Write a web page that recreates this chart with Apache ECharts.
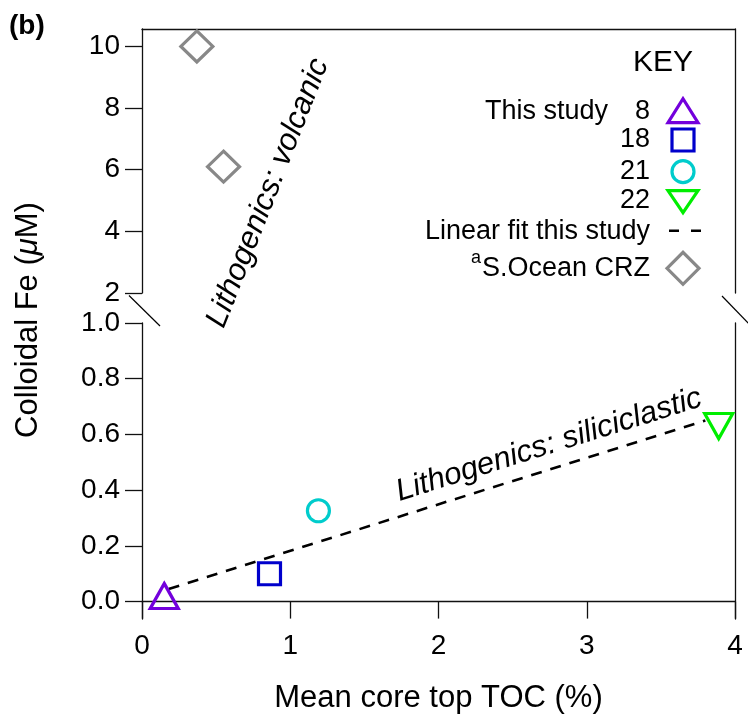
<!DOCTYPE html>
<html>
<head>
<meta charset="utf-8">
<script src="https://cdn.jsdelivr.net/npm/echarts@6/dist/echarts.min.js"></script>
<style>
html, body { margin: 0; padding: 0; background: #fff; }
#chart { width: 748px; height: 725px; }
</style>
</head>
<body>
<div id="chart"></div>
<script>
// stations of this study (8, 18, 21, 22)
var stationNames = ['8', '18', '21', '22'];
var stationToc = [0.15, 0.86, 1.19, 3.89];
var stationFe = [0.02, 0.10, 0.326, 0.63];
// S.Ocean CRZ (upper panel)
var crzToc = [0.37, 0.55];
var crzFe = [10.0, 6.1];
// linear fit this study
var fitToc = [0.18, 3.80];
var fitFe = [0.045, 0.65];
// ticks
var xTicks = [0, 1, 2, 3, 4];
var yTicksTop = [2, 4, 6, 8, 10];
var yTicksBottom = [0, 0.2, 0.4, 0.6, 0.8, 1.0];

var stationColors = ['#7300DC', '#0000CC', '#00CCCC', '#00EE00'];
var stationSymbols = ['triangle', 'rect', 'circle', 'triangle'];
var stationSizes = [[28, 25], 22, 22, [28, 25]];
var stationRotate = [0, 0, 0, 180];
var crzColor = '#888888';

var FONT = '"Liberation Sans", Arial, Helvetica, sans-serif';
var axisCol = '#111';
var lineW = 1.3;

var dom = document.getElementById('chart');
var myChart = echarts.init(dom);

var series = [];
series.push({
    name: 'Linear fit this study',
    type: 'line',
    xAxisIndex: 1,
    yAxisIndex: 2,
    symbol: 'none',
    data: fitToc.map(function (x, i) { return [x, fitFe[i]]; }),
    lineStyle: { color: '#000', width: 2.6, type: [11, 9] },
    z: 2
});
for (var i = 0; i < stationNames.length; i++) {
    series.push({
        name: stationNames[i],
        type: 'scatter',
        xAxisIndex: 1,
        yAxisIndex: 2,
        data: [[stationToc[i], stationFe[i]]],
        symbol: stationSymbols[i],
        symbolSize: stationSizes[i],
        symbolRotate: stationRotate[i],
        itemStyle: { color: 'rgba(0,0,0,0)', borderColor: stationColors[i], borderWidth: 3.2, opacity: 1 },
        z: 3
    });
}
series.push({
    name: 'S.Ocean CRZ',
    type: 'scatter',
    xAxisIndex: 0,
    yAxisIndex: 0,
    data: crzToc.map(function (x, i) { return [x, crzFe[i]]; }),
    symbol: 'diamond',
    symbolSize: [32, 31],
    itemStyle: { color: 'rgba(0,0,0,0)', borderColor: crzColor, borderWidth: 3.2, opacity: 1 },
    z: 3
});

var option = {
    animation: false,
    textStyle: { fontFamily: FONT },
    grid: [
        { left: 142, right: 13, top: 29, height: 264 },
        { left: 142, right: 13, top: 323, height: 296 }
    ],
    xAxis: [
        {
            gridIndex: 0, type: 'value', min: 0, max: 4, position: 'top',
            axisLine: { show: true, onZero: false, lineStyle: { color: axisCol, width: lineW } },
            axisTick: { show: false }, axisLabel: { show: false }, splitLine: { show: false }
        },
        {
            gridIndex: 1, type: 'value', min: 0, max: 4, interval: 1,
            axisLine: { show: true, onZero: true, lineStyle: { color: axisCol, width: lineW } },
            axisTick: { show: true, inside: false, length: 17, customValues: xTicks, lineStyle: { color: axisCol, width: lineW } },
            axisLabel: { customValues: xTicks, fontSize: 28, margin: 13, color: '#000', fontFamily: FONT },
            splitLine: { show: false },
            name: 'Mean core top TOC (%)',
            nameLocation: 'middle',
            nameGap: 64,
            nameTextStyle: { fontSize: 31, color: '#000', fontFamily: FONT }
        }
    ],
    yAxis: [
        {
            gridIndex: 0, type: 'value', min: 2, max: 10.566,
            axisLine: { show: true, onZero: false, lineStyle: { color: axisCol, width: lineW } },
            axisTick: { show: true, length: 17, customValues: yTicksTop, lineStyle: { color: axisCol, width: lineW } },
            axisLabel: { customValues: yTicksTop, fontSize: 28, margin: 22, color: '#000', fontFamily: FONT },
            splitLine: { show: false }
        },
        {
            gridIndex: 0, type: 'value', min: 2, max: 10.566, position: 'right',
            axisLine: { show: true, onZero: false, lineStyle: { color: axisCol, width: lineW } },
            axisTick: { show: false }, axisLabel: { show: false }, splitLine: { show: false }
        },
        {
            gridIndex: 1, type: 'value', min: -0.0625, max: 1.0,
            axisLine: { show: true, onZero: false, lineStyle: { color: axisCol, width: lineW } },
            axisTick: { show: true, length: 17, customValues: yTicksBottom, lineStyle: { color: axisCol, width: lineW } },
            axisLabel: {
                customValues: yTicksBottom, fontSize: 28, margin: 22, color: '#000', fontFamily: FONT,
                formatter: function (v) { return v.toFixed(1); }
            },
            splitLine: { show: false }
        },
        {
            gridIndex: 1, type: 'value', min: -0.0625, max: 1.0, position: 'right',
            axisLine: { show: true, onZero: false, lineStyle: { color: axisCol, width: lineW } },
            axisTick: { show: false }, axisLabel: { show: false }, splitLine: { show: false }
        }
    ],
    series: series
};

if (option && typeof option === "object") {
    myChart.setOption(option, true);
}

// decorations: panel label, axis title, annotations, key, axis break marks
var pTop = myChart.convertToPixel({ gridIndex: 0 }, [0, 2]);
var pBot = myChart.convertToPixel({ gridIndex: 1 }, [0, 1]);
var pTopR = myChart.convertToPixel({ gridIndex: 0 }, [4, 2]);

var txt = function (x, y, text, size, align, weight) {
    return {
        type: 'text', x: x, y: y, z: 10,
        style: {
            text: text, fontSize: size, fontFamily: FONT, fontWeight: weight || 'normal', fill: '#000',
            textAlign: align || 'right', textVerticalAlign: 'middle'
        }
    };
};

var keyX = 650, symX = 683;
var rows = [111.7, 140, 171.7, 200.7, 231.7, 268.3];
var sw = 3.2;

var graphics = [
    txt(9, 26, '(b)', 28, 'left', 'bold'),
    {
        type: 'text', x: 28, y: 320, rotation: Math.PI / 2, z: 10,
        style: {
            text: '{n|Colloidal Fe (}{i|μ}{n|M)}',
            textAlign: 'center', textVerticalAlign: 'middle',
            rich: {
                n: { fontSize: 31, fontFamily: FONT, fill: '#000' },
                i: { fontSize: 31, fontFamily: FONT, fontStyle: 'italic', fill: '#000' }
            }
        }
    },
    {
        type: 'text', x: 268, y: 193, rotation: 68.5 * Math.PI / 180, z: 10,
        style: { text: 'Lithogenics: volcanic', fontSize: 31, fontStyle: 'italic', fontFamily: FONT, fill: '#000', textAlign: 'center', textVerticalAlign: 'middle' }
    },
    {
        type: 'text', x: 549, y: 445, rotation: 17.4 * Math.PI / 180, z: 10,
        style: { text: 'Lithogenics: siliciclastic', fontSize: 31, fontStyle: 'italic', fontFamily: FONT, fill: '#000', textAlign: 'center', textVerticalAlign: 'middle' }
    },
    txt(663, 63, 'KEY', 30, 'center'),
    txt(608, rows[0], 'This study', 27),
    txt(keyX, rows[0], stationNames[0], 27),
    txt(keyX, rows[1], stationNames[1], 27),
    txt(keyX, rows[2], stationNames[2], 27),
    txt(keyX, rows[3], stationNames[3], 27),
    txt(keyX, rows[4], 'Linear fit this study', 27),
    txt(keyX, rows[5], 'S.Ocean CRZ', 27),
    txt(keyX - 169, rows[5] - 10, 'a', 18),
    // key symbols
    {
        type: 'polygon', x: symX, y: rows[0], z: 10,
        shape: { points: [[-15, 11], [15, 11], [0, -13]] },
        style: { fill: 'none', stroke: stationColors[0], lineWidth: sw }
    },
    {
        type: 'rect', x: symX - 11, y: rows[1] - 11, z: 10,
        shape: { x: 0, y: 0, width: 22, height: 22 },
        style: { fill: 'none', stroke: stationColors[1], lineWidth: sw }
    },
    {
        type: 'circle', x: symX, y: rows[2], z: 10,
        shape: { cx: 0, cy: 0, r: 11 },
        style: { fill: 'none', stroke: stationColors[2], lineWidth: sw }
    },
    {
        type: 'polygon', x: symX, y: rows[3], z: 10,
        shape: { points: [[-15, -10], [15, -10], [0, 12]] },
        style: { fill: 'none', stroke: stationColors[3], lineWidth: sw }
    },
    {
        type: 'line', x: 0, y: 0, z: 10,
        shape: { x1: symX - 14, y1: rows[4] - 1, x2: symX + 18, y2: rows[4] - 1 },
        style: { stroke: '#000', lineWidth: 2.6, lineDash: [10, 12] }
    },
    {
        type: 'polygon', x: symX, y: rows[5], z: 10,
        shape: { points: [[-16, 0], [0, -16], [16, 0], [0, 16]] },
        style: { fill: 'none', stroke: crzColor, lineWidth: sw }
    },
    // axis break marks
    {
        type: 'line', z: 10,
        shape: { x1: pTop[0] - 13, y1: pTop[1] + 2.5, x2: pBot[0] + 18, y2: pBot[1] + 3 },
        style: { stroke: '#000', lineWidth: 1.2 }
    },
    {
        type: 'line', z: 10,
        shape: { x1: pTopR[0] - 13, y1: pTop[1] + 3, x2: pTopR[0] + 14, y2: pBot[1] + 1 },
        style: { stroke: '#000', lineWidth: 1.2 }
    }
];

myChart.setOption({ graphic: graphics });
</script>
</body>
</html>
